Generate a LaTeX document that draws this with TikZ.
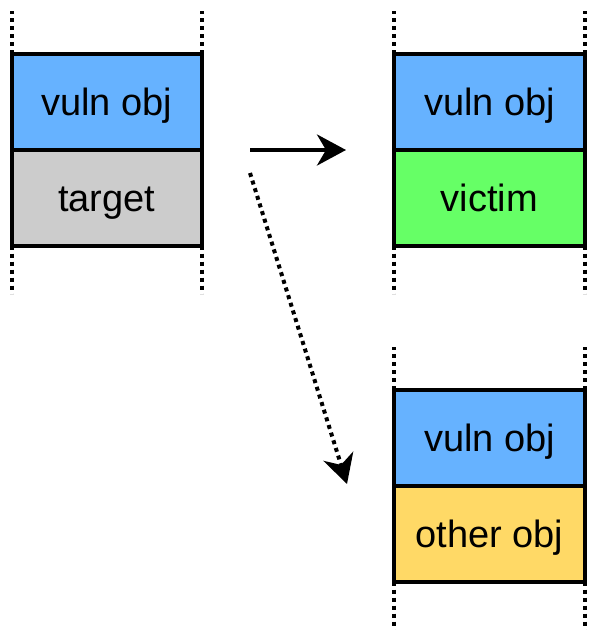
\documentclass[tikz,border=0pt]{standalone}
\usepackage{fontspec}
\setmainfont{Liberation Sans}
\usetikzlibrary{arrows.meta}
\definecolor{vulnblue}{HTML}{66B2FF}
\definecolor{targetgray}{HTML}{CCCCCC}
\definecolor{victimgreen}{HTML}{66FF66}
\definecolor{otheryellow}{HTML}{FFD966}
\tikzset{
  slot/.style={draw=black, line width=4pt, minimum width=190.5pt, minimum height=96pt,
    inner sep=0pt, outer sep=0pt, text height=35pt, text depth=8pt,
    font=\fontsize{38}{44}\selectfont},
  edge/.style={line width=4pt, dash pattern=on 4pt off 4pt},
  flow/.style={line width=4pt, -{Stealth[length=29pt,width=31pt,inset=9pt]}},
}
\begin{document}
\begin{tikzpicture}[x=1pt,y=-1pt]
\useasboundingbox (0,0) rectangle (589,630);
% source slab
\node[slot, fill=vulnblue]   (v1) at (106.75,101.5) {vuln obj};
\node[slot, fill=targetgray] (t1) at (106.75,197.5) {target};
% expected neighbour
\node[slot, fill=vulnblue]    (v2) at (489.5,101.5) {vuln obj};
\node[slot, fill=victimgreen] (t2) at (489.5,197.5) {victim};
% unexpected neighbour
\node[slot, fill=vulnblue]    (v3) at (489.5,437.5) {vuln obj};
\node[slot, fill=otheryellow] (t3) at (489.5,533.5) {other obj};
% slab continuation marks
\foreach \top/\bot in {v1/t1, v2/t2, v3/t3} {
  \draw[edge] (\top.north west) -- ++(0,-43);
  \draw[edge] (\top.north east) -- ++(0,-43);
  \draw[edge] (\bot.south west) -- ++(0,48);
  \draw[edge] (\bot.south east) -- ++(0,48);
}
% transitions
\coordinate (a1s) at (250,150);
\coordinate (a1e) at (346,150);
\coordinate (a2s) at (250,173);
\coordinate (a2e) at (347,484);
\draw[flow] (a1s) -- (a1e);
\draw[flow, dash pattern=on 4pt off 4pt] (a2s) -- (a2e);
\end{tikzpicture}
\end{document}
